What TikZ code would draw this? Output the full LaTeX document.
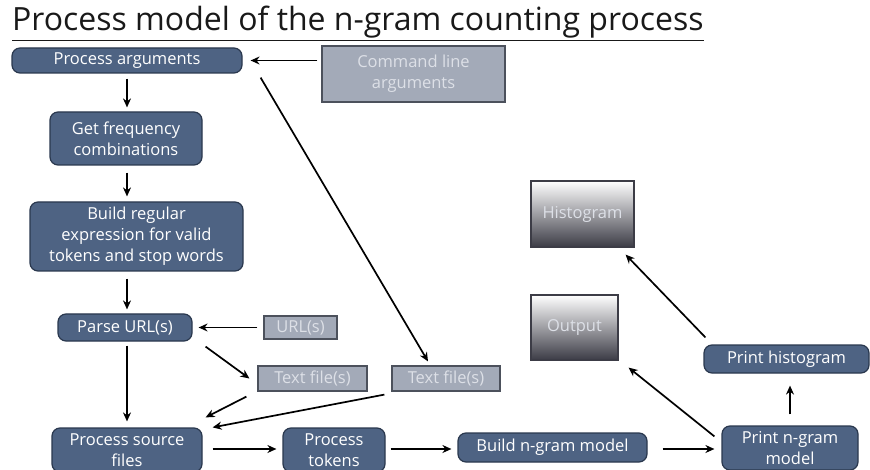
\documentclass[tikz,border=0pt]{standalone}
\usepackage{fontspec}
\setmainfont{Open Sans}
\usetikzlibrary{calc,arrows.meta}
\definecolor{procfill}{HTML}{4E6383}
\definecolor{procdraw}{HTML}{2A384E}
\definecolor{datafill}{HTML}{A3AAB8}
\definecolor{datadraw}{HTML}{4C515C}
\definecolor{datatext}{HTML}{DDE0E7}
\definecolor{outbot}{HTML}{3C3C46}
\tikzset{
  proc/.style={draw=procdraw, line width=1.2pt, fill=procfill, rounded corners=8pt,
    text=white, font=\fontsize{16.5}{21}\selectfont, align=center, inner sep=1pt},
  data/.style={draw=datadraw, line width=1.2pt, fill=datafill, text=datatext,
    font=\fontsize{16.5}{21}\selectfont, align=center, inner sep=1pt},
  store/.style={draw=outbot, line width=1.2pt, top color=white, bottom color=outbot,
    text=datatext, font=\fontsize{16.5}{21}\selectfont, align=center, inner sep=1pt},
  conn/.style={line width=1.7pt, -{Stealth[length=9pt,width=8pt]}},
}
\begin{document}
\begin{tikzpicture}[x=1pt,y=-1pt]
\useasboundingbox (0,0) rectangle (870,470);
\node[anchor=base west, font=\fontsize{32}{34}\selectfont, text=black!90, inner sep=0pt] (title) at (12,31) {\underline{Process model of the n-gram counting process}};

\node[proc, minimum width=230pt, minimum height=25pt] (pa) at (127,60.5) {Process arguments};
\node[data, minimum width=183pt, minimum height=56pt] (cla) at (413.5,74) {Command line\\arguments};
\node[proc, minimum width=152pt, minimum height=53pt] (gf) at (126,138.5) {Get frequency\\combinations};
\node[proc, minimum width=213pt, minimum height=69pt] (br) at (136.5,236.5) {Build regular\\expression for valid\\tokens and stop words};
\node[proc, minimum width=134pt, minimum height=27pt] (pu) at (125,327.5) {Parse URL(s)};
\node[data, minimum width=73pt, minimum height=23pt] (url) at (300.5,327.5) {URL(s)};
\node[data, minimum width=109pt, minimum height=25pt] (tf1) at (312.5,378.5) {Text file(s)};
\node[data, minimum width=108pt, minimum height=25pt] (tf2) at (446,378.5) {Text file(s)};
\node[proc, minimum width=150pt, minimum height=44pt] (ps) at (127,450) {Process source\\files};
\node[proc, minimum width=102pt, minimum height=44pt] (pt) at (334,450) {Process\\tokens};
\node[proc, minimum width=189pt, minimum height=29pt] (bn) at (552.5,447.5) {Build n-gram model};
\node[proc, minimum width=136pt, minimum height=44pt] (pn) at (790,448) {Print n-gram\\model};
\node[proc, minimum width=165pt, minimum height=28pt] (ph) at (786.5,359) {Print histogram};
\node[store, minimum width=103pt, minimum height=66pt] (hist) at (582.5,214) {Histogram};
\node[store, minimum width=87pt, minimum height=65pt] (out) at (574.5,327.5) {Output};

\draw[conn] (cla.west |- pa.east) ++(-4,0) -- ($(pa.east)+(8,0)$);
\draw[conn] (pa.south) ++(0,5) -- ($(pa.south |- gf.north)+(0,-4)$);
\draw[conn] (pa.south |- gf.south) ++(0,7) -- ($(pa.south |- br.north)+(0,-5)$);
\draw[conn] (pa.south |- br.south) ++(0,7) -- ($(pa.south |- pu.north)+(0,-4)$);
\draw[conn] ($(url.west)+(-6,0)$) -- ($(pu.east)+(6,0)$);
\draw[conn] (pa.south |- pu.south) ++(0,4) -- ($(pa.south |- ps.north)+(0,-6)$);
\draw[conn] ($(pu.south east)+(13,5)$) -- ($(tf1.west)+(-8,0)$);
\draw[conn] ($(tf1.south west)+(-11,5)$) -- ($(ps.north east)+(3,-10)$);
\draw[conn] ($(tf2.south west)+(-7,3)$) -- ($(ps.north east)+(10,0)$);
\draw[conn] ($(pa.south east)+(18,4)$) -- ($(tf2.north)+(-18,-4)$);
\draw[conn] ($(ps.east)+(10,-1)$) -- ($(pt.west)+(-6,-1)$);
\draw[conn] ($(pt.east)+(5,-1)$) -- ($(bn.west)+(-6,1.5)$);
\draw[conn] ($(bn.east)+(15,1.5)$) -- ($(pn.west)+(-7,1)$);
\draw[conn] ($(pn.north west)+(-7,11)$) -- ($(out.south east)+(10,7)$);
\draw[conn] (pn.north) ++(0,-11) -- ($(pn.north |- ph.south)+(0,12)$);
\draw[conn] ($(ph.north west)+(2,-7)$) -- ($(hist.south east)+(-9,7)$);
\end{tikzpicture}
\end{document}
